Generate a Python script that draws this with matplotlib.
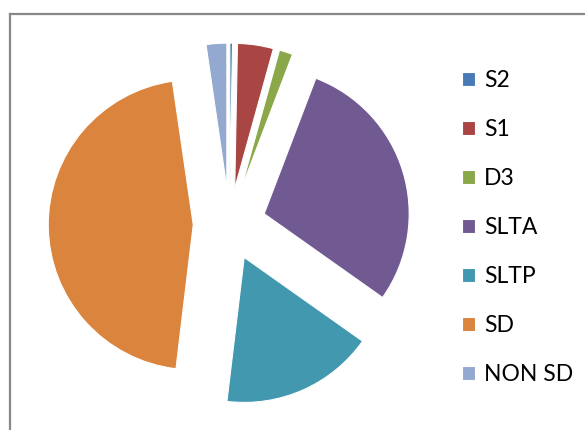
import matplotlib
matplotlib.use("Agg")
import matplotlib.pyplot as plt
from matplotlib.lines import Line2D

# === Data (percent shares) ===
labels = ["S2", "S1", "D3", "SLTA", "SLTP", "SD", "NON SD"]
shares = [0.3, 4.0, 1.5, 29.0, 17.1, 45.8, 2.3]
colors = ["#4A7AB5", "#A94543", "#8AA84A", "#715A92", "#4198AF", "#DB843D", "#93A9CF"]

plt.rcParams['font.family'] = ['Lato', 'DejaVu Sans']

W, H = 585, 430
R = 145  # pie radius in pixels
fig = plt.figure(figsize=(W / 100, H / 100), dpi=100)
ax = fig.add_axes([0, 0, 1, 1])

# pie in pixel units, origin bottom-left; explode is an absolute offset here
wedges, _ = ax.pie(
    shares,
    colors=colors,
    startangle=90,
    counterclock=False,
    explode=[0.25 * R] * len(shares),
    radius=R,
    center=(229.5, H - 224.3),
    wedgeprops=dict(edgecolor='white', linewidth=0.8),
)
ax.set_xlim(0, W)
ax.set_ylim(0, H)
ax.set_aspect('equal')
ax.axis('off')

# chart area border (left and top edges visible)
fig.add_artist(Line2D([10 / W, 10 / W], [0, 1 - 14 / H], color='#888888', lw=1.6))
fig.add_artist(Line2D([10 / W, 1], [1 - 14 / H, 1 - 14 / H], color='#888888', lw=1.6))

ax.legend(
    wedges, labels,
    loc='upper left',
    bbox_to_anchor=(462 / W, 1 - 70 / H),
    bbox_transform=fig.transFigure,
    frameon=False,
    fontsize=16.5,
    handlelength=0.57,
    handleheight=0.57,
    handletextpad=0.4,
    labelspacing=1.22,
    borderpad=0,
    borderaxespad=0,
)

fig.savefig("out.png", dpi=100)
